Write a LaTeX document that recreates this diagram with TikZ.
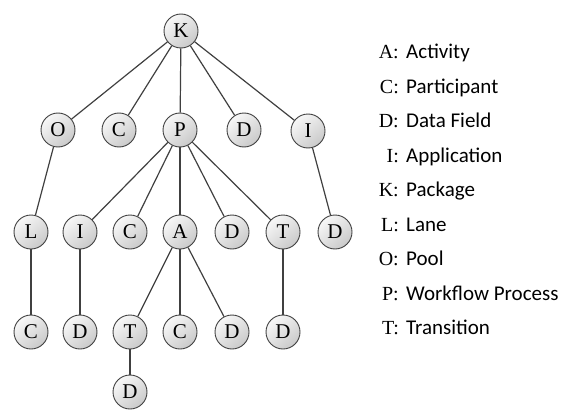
\documentclass[tikz,border=0pt]{standalone}
\usepackage{fontspec}
\setmainfont{Liberation Serif}
\newfontfamily\descfont{Carlito}
\begin{document}
\begin{tikzpicture}[x=1pt,y=-1pt,
  tnode/.style={circle, draw=black!75, line width=0.9pt, minimum size=34pt, inner sep=0pt,
    top color=gray!6, bottom color=gray!42, shading angle=40,
    font=\fontsize{21}{22}\selectfont},
  edge/.style={draw=black!75, line width=1.2pt},
  leglet/.style={anchor=base east, inner sep=0pt, font=\fontsize{20}{22}\selectfont},
  legtxt/.style={anchor=base west, inner sep=0pt, font=\descfont\fontsize{21}{22}\selectfont}]
\useasboundingbox (0,0) rectangle (569,409);
% level 1
\node[tnode] (K) at (181,31) {K};
% level 2
\node[tnode] (O) at (58,130) {O};
\node[tnode] (C1) at (119,130) {C};
\node[tnode] (P) at (180,130) {P};
\node[tnode] (D1) at (244,130) {D};
\node[tnode] (I1) at (308,131) {I};
% level 3
\node[tnode] (L) at (31,232) {L};
\node[tnode] (I2) at (80,232) {I};
\node[tnode] (C2) at (130,232) {C};
\node[tnode] (A) at (180,232) {A};
\node[tnode] (D2) at (232,232) {D};
\node[tnode] (T1) at (283,232) {T};
\node[tnode] (D3) at (335,232) {D};
% level 4
\node[tnode] (C3) at (31,332) {C};
\node[tnode] (D4) at (80,332) {D};
\node[tnode] (T2) at (130,332) {T};
\node[tnode] (C4) at (180,332) {C};
\node[tnode] (D5) at (232,332) {D};
\node[tnode] (D6) at (283,332) {D};
% level 5
\node[tnode] (D7) at (130,392) {D};
% edges
\foreach \a/\b in {K/O,K/C1,K/P,K/D1,K/I1,O/L,P/I2,P/C2,P/A,P/D2,P/T1,I1/D3,
  L/C3,I2/D4,A/T2,A/C4,A/D5,T1/D6,T2/D7}
  \path[edge] (\a) -- (\b);
% legend
\foreach \y/\l/\t [count=\i] in {59/A/Activity,93/C/Participant,127/D/Data Field,
  162/I/Application,196/K/Package,231/L/Lane,265/O/Pool,300/P/Workflow Process,334/T/Transition}{
  \node[leglet] (ll\i) at (399,\y) {\l:};
  \node[legtxt] (lt\i) at (406,\y) {\t};
}
\end{tikzpicture}
\end{document}
